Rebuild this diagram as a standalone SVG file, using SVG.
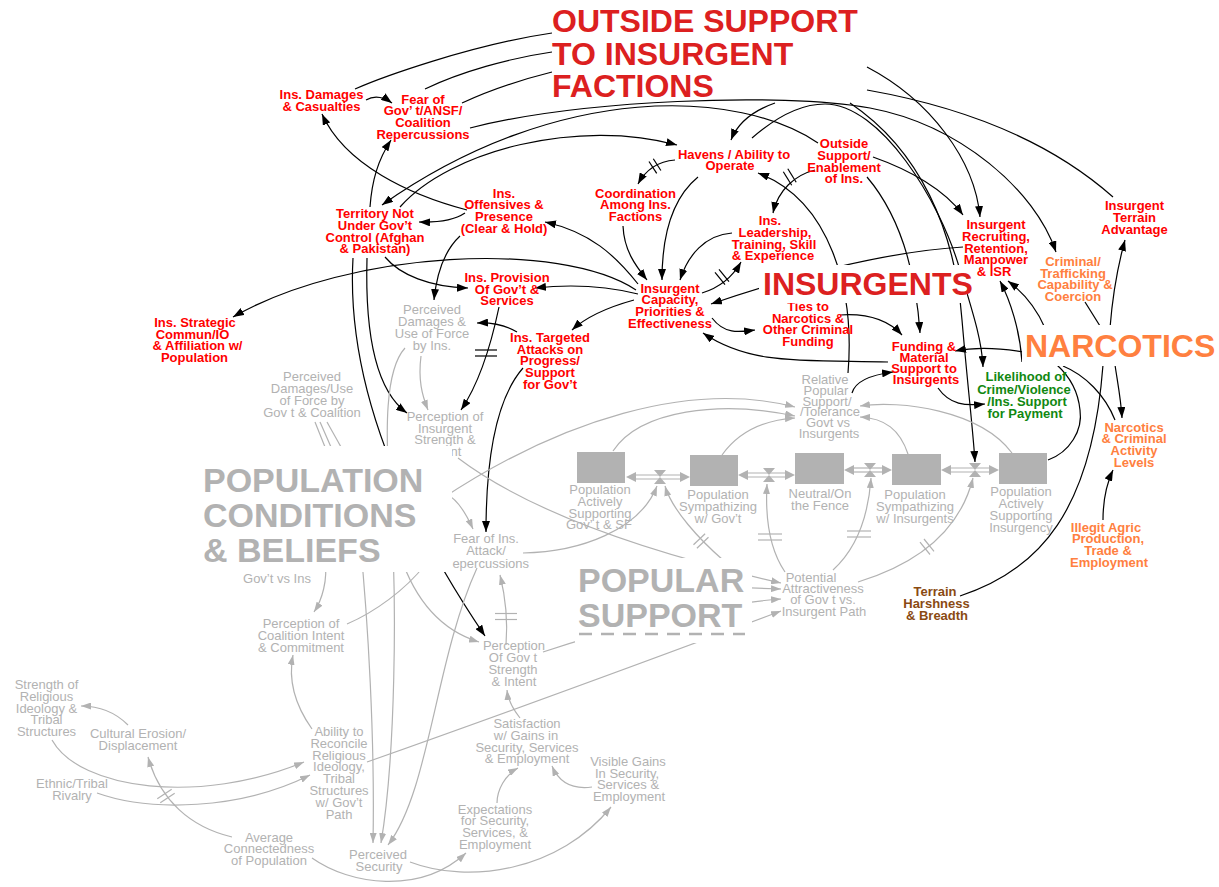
<svg xmlns="http://www.w3.org/2000/svg" width="1219" height="887" viewBox="0 0 1219 887">
<defs>
<marker id="ab" viewBox="0 0 11 8" refX="11" refY="4" markerWidth="11" markerHeight="8" markerUnits="userSpaceOnUse" orient="auto"><path d="M0,0 L11,4 L0,8 z" fill="#000"/></marker>
<marker id="ag" viewBox="0 0 10 7" refX="10" refY="3.5" markerWidth="10" markerHeight="7" markerUnits="userSpaceOnUse" orient="auto"><path d="M0,0 L10,3.5 L0,7 z" fill="#b2b2b2"/></marker>
</defs>
<style>
.k{fill:none;stroke:#000;stroke-width:1.2}
.ka{marker-end:url(#ab)}
.g{fill:none;stroke:#b2b2b2;stroke-width:1.2}
.ga{marker-end:url(#ag)}
.h{stroke:#000;stroke-width:1.2}
.hg{stroke:#b2b2b2;stroke-width:1.2}
text{font-family:"Liberation Sans",Arial,Helvetica,sans-serif}
.r{font-size:13px;font-weight:bold;fill:#f00;text-anchor:middle}
.o{font-size:13px;font-weight:bold;fill:#ff8040;text-anchor:middle}
.gr{font-size:13px;font-weight:bold;fill:#118811;text-anchor:middle}
.br{font-size:13px;font-weight:bold;fill:#8a4a12;text-anchor:middle}
.gn{font-size:13px;fill:#b2b2b2;text-anchor:middle}
.t{font-size:32px;font-weight:bold}
.tg{font-size:34px;font-weight:bold;fill:#b2b2b2}
.stock{fill:#b2b2b2}
.wb{fill:#fff}
</style>
<rect width="1219" height="887" fill="#fff"/>
<g id="connectors">
<path class="k" d="M552,33 C470,45 380,78 355,89"/>
<path class="k" d="M552,52 C510,58 460,72 425,89"/>
<path class="k" d="M552,72 C520,80 490,90 462,103"/>
<path class="k ka" d="M867,67 C930,100 975,160 980,217"/>
<path class="k" d="M867,90 C980,110 1060,150 1113,197"/>
<path class="k ka" d="M366,100 Q378,93 392,103"/>
<path class="k ka" d="M370,207 C372,180 378,160 391,140"/>
<path class="k ka" d="M467,210 C410,195 345,165 322,114"/>
<path class="k ka" d="M818,143 C740,90 560,80 382,205"/>
<path class="k ka" d="M400,207 C450,150 580,118 677,145"/>
<path class="k ka" d="M470,128 C580,100 780,92 870,108 C960,125 1035,190 1056,252"/>
<path class="k ka" d="M465,213 Q450,223 419,222"/>
<path class="k ka" d="M460,236 C445,250 437,270 434,300"/>
<path class="k ka" d="M638,284 C615,255 590,232 545,222"/>
<path class="k ka" d="M623,226 C624,250 635,265 647,280"/>
<path class="k ka" d="M675,160 Q650,162 638,184"/>
<line class="h" x1="649" y1="161.5" x2="656.7" y2="173.3"/><line class="h" x1="653.3" y1="158.7" x2="660.9" y2="170.5"/>
<path class="k ka" d="M698,177 C670,200 662,240 662,280"/>
<path class="k ka" d="M732,233 C705,235 688,255 680,280"/>
<path class="k ka" d="M702,293 Q728,285 741,262"/>
<line class="h" x1="715" y1="272.3" x2="725" y2="284.7"/><line class="h" x1="719" y1="269.3" x2="729" y2="281.7"/>
<path class="k ka" d="M815,170 C795,175 778,190 773,213"/>
<line class="h" x1="787.8" y1="168.7" x2="796.2" y2="182.3"/><line class="h" x1="783.3" y1="171.7" x2="791.7" y2="185.3"/>
<path class="k ka" d="M848,373 C855,290 830,200 758,173"/>
<path class="k ka" d="M963,247 C880,252 780,280 711,304"/>
<path class="k ka" d="M638,294 Q590,282 535,288"/>
<path class="k ka" d="M634,300 C605,308 585,318 572,330"/>
<path class="k ka" d="M712,318 C725,335 740,332 755,330"/>
<path class="k ka" d="M888,362 C800,360 750,365 703,333"/>
<path class="k ka" d="M840,315 C870,313 890,322 902,335"/>
<path class="k ka" d="M867,177 C895,210 915,260 920,333"/>
<path class="k ka" d="M775,103 C755,110 738,122 731,140"/>
<path class="k ka" d="M752,138 C775,118 800,104 825,104 C880,104 940,200 960,270 C972,310 982,340 983,367"/>
<path class="k ka" d="M850,103 C920,150 955,230 962,320 C968,390 973,430 975,462"/>
<path class="k ka" d="M873,157 C910,170 945,190 963,215"/>
<path class="k ka" d="M636,290 C560,240 350,250 233,317"/>
<path class="k ka" d="M385,257 C400,275 430,287 468,288"/>
<path class="k ka" d="M367,258 C365,330 375,390 407,413"/>
<path class="k ka" d="M353,258 C345,400 420,540 485,636"/>
<path class="k ka" d="M499,307 C490,350 478,385 461,410"/>
<line class="h" x1="475" y1="350" x2="497" y2="350"/><line class="h" x1="475" y1="356" x2="497" y2="356"/>
<path class="k ka" d="M517,332 Q500,322 477,323"/>
<path class="k ka" d="M523,368 C495,400 486,460 486,532"/>
<path class="k ka" d="M852,393 C855,382 870,375 893,372"/>
<path class="k ka" d="M938,388 C950,405 965,406 985,404"/>
<path class="k ka" d="M1023,352 C1000,348 975,347 955,351"/>
<path class="k ka" d="M1022,362 C1020,330 1010,300 1000,281"/>
<path class="k ka" d="M1045,328 C1035,305 1020,290 1008,281"/>
<path class="k" d="M1085,302 L1100,326"/>
<path class="k ka" d="M1110,328 C1113,290 1118,265 1125,240"/>
<path class="k ka" d="M1115,365 C1118,385 1121,400 1122,418"/>
<path class="k" d="M1063,366 C1085,375 1105,395 1115,420"/>
<path class="k" d="M1048,460 C1070,452 1083,430 1080,410 C1078,390 1068,375 1057,365"/>
<path class="k" d="M960,596 C1040,570 1092,510 1103,365"/>
<path class="k ka" d="M1103,520 C1103,500 1106,485 1113,470"/>

<path class="g ga" d="M523,553 C580,552 640,530 657,486"/>
<path class="g ga" d="M613,451 C640,410 720,400 795,416"/>
<path class="g ga" d="M722,455 C740,430 765,420 795,418"/>
<path class="g ga" d="M908,454 C900,430 885,418 860,417"/>
<path class="g ga" d="M1012,453 C980,410 900,400 860,406"/>
<path class="g ga" d="M440,500 C560,420 690,380 795,407"/>
<path class="g ga" d="M446,494 Q460,500 473,529"/>
<path class="g ga" d="M421,356 C418,380 422,395 428,410"/>
<path class="g ga" d="M405,348 C385,370 385,430 390,500 C398,600 395,760 381,843"/>
<path class="g ga" d="M458,458 C540,520 680,560 781,583"/>
<path class="g ga" d="M700,586 L781,589"/>
<path class="g ga" d="M543,652 C600,633 700,605 781,599"/>
<path class="g ga" d="M367,762 C500,715 650,660 781,611"/>
<path class="g ga" d="M723,560 C700,540 672,510 665,486"/>
<line class="hg" x1="693.5" y1="544.7" x2="705.1" y2="533.7"/><line class="hg" x1="696.9" y1="548.3" x2="708.5" y2="537.3"/>
<path class="g ga" d="M785,572 C770,550 765,520 767,484"/>
<line class="hg" x1="758" y1="534" x2="782" y2="534"/><line class="hg" x1="758" y1="540" x2="782" y2="540"/>
<path class="g ga" d="M833,570 C855,550 868,520 871,478"/>
<line class="hg" x1="847" y1="531" x2="871" y2="531"/><line class="hg" x1="847" y1="537" x2="871" y2="537"/>
<path class="g ga" d="M858,582 C920,563 960,530 973,478"/>
<line class="hg" x1="920" y1="542.1" x2="930" y2="554.5"/><line class="hg" x1="924" y1="539" x2="934" y2="551.4"/>
<line class="g" x1="315" y1="422" x2="325" y2="447"/><line class="g" x1="320" y1="422" x2="331" y2="447"/><line class="g" x1="327" y1="422" x2="341" y2="447"/>
<path class="g ga" d="M325,560 C328,580 322,600 314,612"/>
<path class="g" d="M347,624 C375,612 405,590 425,565"/>
<path class="g ga" d="M360,540 C368,620 375,740 373,843"/>
<path class="g ga" d="M477,568 C435,660 430,790 388,845"/>
<path class="g ga" d="M400,555 C415,600 440,630 479,642"/>
<path class="g ga" d="M506,645 C508,620 505,595 500,575"/>
<line class="hg" x1="495" y1="613.5" x2="517" y2="613.5"/><line class="hg" x1="495" y1="619.5" x2="517" y2="619.5"/>
<path class="g ga" d="M52,740 C80,790 200,805 304,762"/>
<path class="g ga" d="M97,793 C150,812 240,810 310,775"/>
<path class="g ga" d="M232,837 C190,827 160,800 148,757"/>
<line class="hg" x1="157.3" y1="798.8" x2="171.7" y2="789.2"/><line class="hg" x1="160.3" y1="802.8" x2="174.7" y2="793.2"/>
<path class="g ga" d="M128,725 C115,712 100,706 81,706"/>
<path class="g ga" d="M312,729 C295,705 288,680 293,655"/>
<path class="g ga" d="M312,858 C350,885 420,895 466,853"/>
<path class="g ga" d="M410,862 C470,885 560,870 611,807"/>
<path class="g ga" d="M592,787 C570,790 558,780 552,766"/>
<path class="g ga" d="M497,803 C497,790 505,775 518,768"/>
<path class="g ga" d="M520,718 C512,708 508,700 507,690"/>
</g>

<g id="stocks">
<rect class="stock" x="577" y="452" width="48" height="31"/>
<rect class="stock" x="690" y="455" width="48" height="31"/>
<rect class="stock" x="795" y="453" width="49" height="31"/>
<rect class="stock" x="892" y="454" width="49" height="31"/>
<rect class="stock" x="999" y="453" width="48" height="31"/>
</g>
<g id="flows">
<line class="g" x1="634" y1="475" x2="682" y2="475"/><line class="g" x1="634" y1="479" x2="682" y2="479"/>
<polygon class="stock" points="626,477 636,472 636,482"/><polygon class="stock" points="690,477 680,472 680,482"/>
<path class="stock" d="M654,470 L666,470 L654,484 L666,484 Z"/>
<line class="g" x1="746" y1="473" x2="787" y2="473"/><line class="g" x1="746" y1="477" x2="787" y2="477"/>
<polygon class="stock" points="738,475 748,470 748,480"/><polygon class="stock" points="795,475 785,470 785,480"/>
<path class="stock" d="M763,468 L775,468 L763,482 L775,482 Z"/>
<line class="g" x1="852" y1="468" x2="884" y2="468"/><line class="g" x1="852" y1="472" x2="884" y2="472"/>
<polygon class="stock" points="844,470 854,465 854,475"/><polygon class="stock" points="892,470 882,465 882,475"/>
<path class="stock" d="M864,463 L876,463 L864,477 L876,477 Z"/>
<line class="g" x1="949" y1="468" x2="991" y2="468"/><line class="g" x1="949" y1="472" x2="991" y2="472"/>
<polygon class="stock" points="941,470 951,465 951,475"/><polygon class="stock" points="999,470 989,465 989,475"/>
<path class="stock" d="M969,463 L981,463 L969,477 L981,477 Z"/>
</g>

<g id="n_damages"><text class="r"><tspan x="321.5" y="98.6">Ins. Damages</tspan><tspan x="321.5" y="110.5">&amp; Casualties</tspan></text></g>
<g id="n_fear"><text class="r"><tspan x="423" y="103.6">Fear of</tspan><tspan x="423" y="115.3">Gov’ t/ANSF/</tspan><tspan x="423" y="127">Coalition</tspan><tspan x="423" y="138.7">Repercussions</tspan></text></g>
<g id="n_territory"><text class="r"><tspan x="375" y="218.3">Territory Not</tspan><tspan x="375" y="230">Under Gov’t</tspan><tspan x="375" y="241.7">Control (Afghan</tspan><tspan x="375" y="253.4">&amp; Pakistan)</tspan></text></g>
<g id="n_offensives"><text class="r"><tspan x="504" y="197.6">Ins.</tspan><tspan x="504" y="209.3">Offensives &amp;</tspan><tspan x="504" y="221">Presence</tspan><tspan x="504" y="232.7">(Clear &amp; Hold)</tspan></text></g>
<g id="n_havens"><text class="r"><tspan x="734" y="158.5">Havens / Ability to</tspan><tspan x="730" y="170">Operate</tspan></text></g>
<g id="n_coord"><text class="r"><tspan x="635.5" y="197.6">Coordination</tspan><tspan x="635.5" y="209.3">Among Ins.</tspan><tspan x="635.5" y="221">Factions</tspan></text></g>
<g id="n_outside"><text class="r"><tspan x="844" y="148.3">Outside</tspan><tspan x="844" y="160">Support/</tspan><tspan x="844" y="171.7">Enablement</tspan><tspan x="844" y="183.4">of Ins.</tspan></text></g>
<g id="n_leader"><text class="r"><tspan x="770" y="225.3">Ins.</tspan><tspan x="775" y="237">Leadership,</tspan><tspan x="774" y="248.6">Training, Skill</tspan><tspan x="773" y="260.3">&amp; Experience</tspan></text></g>
<g id="n_capacity"><text class="r"><tspan x="670" y="292.6">Insurgent</tspan><tspan x="670" y="304.3">Capacity,</tspan><tspan x="670" y="316">Priorities &amp;</tspan><tspan x="670" y="327.7">Effectiveness</tspan></text></g>
<g id="n_provision"><text class="r"><tspan x="507" y="282">Ins. Provision</tspan><tspan x="507" y="293.6">Of Gov’t &amp;</tspan><tspan x="507" y="305.3">Services</tspan></text></g>
<g id="n_strategic"><text class="r"><tspan x="195" y="327">Ins. Strategic</tspan><tspan x="192.5" y="338.6">Commun/IO</tspan><tspan x="197.5" y="350.3">&amp; Affiliation w/</tspan><tspan x="194.5" y="362">Population</tspan></text></g>
<g id="n_targeted"><text class="r"><tspan x="550" y="342">Ins. Targeted</tspan><tspan x="550" y="353.6">Attacks on</tspan><tspan x="550" y="365.3">Progress/</tspan><tspan x="550" y="377">Support</tspan><tspan x="550" y="388.7">for Gov’t</tspan></text></g>
<g id="n_ties"><text class="r"><tspan x="808" y="311">Ties to</tspan><tspan x="808" y="322.6">Narcotics &amp;</tspan><tspan x="808" y="334.3">Other Criminal</tspan><tspan x="808" y="346">Funding</tspan></text></g>
<g id="n_funding"><text class="r"><tspan x="924" y="351">Funding &amp;</tspan><tspan x="924" y="362">Material</tspan><tspan x="924" y="372.8">Support to</tspan><tspan x="926" y="383.8">Insurgents</tspan></text></g>
<g id="n_recruit"><text class="r"><tspan x="996" y="229.3">Insurgent</tspan><tspan x="996" y="241">Recruiting,</tspan><tspan x="996" y="252.6">Retention,</tspan><tspan x="996" y="264.3">Manpower</tspan><tspan x="994" y="276">&amp; ISR</tspan></text></g>
<g id="n_terrainadv"><text class="r"><tspan x="1134.5" y="210.3">Insurgent</tspan><tspan x="1134.5" y="222">Terrain</tspan><tspan x="1134.5" y="233.7">Advantage</tspan></text></g>
<g id="n_criminal"><text class="o"><tspan x="1073" y="266">Criminal/</tspan><tspan x="1073" y="277.6">Trafficking</tspan><tspan x="1075" y="289.3">Capability &amp;</tspan><tspan x="1073" y="301">Coercion</tspan></text></g>
<g id="n_narclevels"><text class="o"><tspan x="1134" y="431.6">Narcotics</tspan><tspan x="1134" y="443.3">&amp; Criminal</tspan><tspan x="1134" y="455">Activity</tspan><tspan x="1134" y="466.7">Levels</tspan></text></g>
<g id="n_illegit"><text class="o"><tspan x="1106" y="531.6">Illegit Agric</tspan><tspan x="1108" y="543.3">Production,</tspan><tspan x="1108" y="555">Trade &amp;</tspan><tspan x="1109" y="566.7">Employment</tspan></text></g>
<g id="n_likelihood"><text class="gr"><tspan x="1026" y="381">Likelihood of</tspan><tspan x="1024" y="393.5">Crime/Violence</tspan><tspan x="1027" y="406">/Ins. Support</tspan><tspan x="1025" y="418">for Payment</tspan></text></g>
<g id="n_terrainharsh"><text class="br"><tspan x="935" y="596">Terrain</tspan><tspan x="936.5" y="608">Harshness</tspan><tspan x="937" y="620">&amp; Breadth</tspan></text></g>

<g id="g_dmgins"><text class="gn"><tspan x="432" y="314.4">Perceived</tspan><tspan x="432" y="326.4">Damages &amp;</tspan><tspan x="432" y="338.4">Use of Force</tspan><tspan x="432" y="350.2">by Ins.</tspan></text></g>
<g id="g_dmggov"><text class="gn"><tspan x="312" y="381">Perceived</tspan><tspan x="312" y="393">Damages/Use</tspan><tspan x="312" y="405">of Force by</tspan><tspan x="312" y="417">Gov  t &amp; Coalition</tspan></text></g>
<g id="g_percins"><text class="gn"><tspan x="445" y="421">Perception of</tspan><tspan x="445" y="432.7">Insurgent</tspan><tspan x="445" y="444.4">Strength &amp;</tspan><tspan x="445" y="456">Intent</tspan></text></g>
<g id="g_fear"><text class="gn"><tspan x="486" y="542.6">Fear of Ins.</tspan><tspan x="486" y="555">Attack/</tspan><tspan x="486" y="567.5">Repercussions</tspan></text></g>
<g id="g_relative"><text class="gn"><tspan x="825" y="384.4">Relative</tspan><tspan x="826" y="395">Popular</tspan><tspan x="827" y="405.7">Support/</tspan><tspan x="830" y="416.4">/Tolerance</tspan><tspan x="828" y="427">Govt vs</tspan><tspan x="829" y="437.7">Insurgents</tspan></text></g>
<g id="g_pop1"><text class="gn"><tspan x="600" y="494.4">Population</tspan><tspan x="600" y="506">Actively</tspan><tspan x="600" y="517.7">Supporting</tspan><tspan x="599" y="529.4">Gov’ t &amp; SF</tspan></text></g>
<g id="g_pop2"><text class="gn"><tspan x="718" y="499.4">Population</tspan><tspan x="718" y="511">Sympathizing</tspan><tspan x="718" y="522.7">w/ Gov’t</tspan></text></g>
<g id="g_neutral"><text class="gn"><tspan x="820" y="498.4">Neutral/On</tspan><tspan x="820" y="510">the Fence</tspan></text></g>
<g id="g_pop4"><text class="gn"><tspan x="915" y="499.4">Population</tspan><tspan x="915" y="511">Sympathizing</tspan><tspan x="915" y="522.7">w/ Insurgents</tspan></text></g>
<g id="g_pop5"><text class="gn"><tspan x="1021" y="496">Population</tspan><tspan x="1021" y="508">Actively</tspan><tspan x="1021" y="520">Supporting</tspan><tspan x="1021" y="531.7">Insurgency</tspan></text></g>
<g id="g_potential"><text class="gn"><tspan x="811" y="581.7">Potential</tspan><tspan x="823" y="592.7">Attractiveness</tspan><tspan x="823" y="604.4">of Gov t vs.</tspan><tspan x="824" y="616">Insurgent Path</tspan></text></g>
<g id="g_coalition"><text class="gn"><tspan x="301" y="628.4">Perception of</tspan><tspan x="301" y="640">Coalition Intent</tspan><tspan x="301" y="651.7">&amp; Commitment</tspan></text></g>
<g id="g_strength"><text class="gn"><tspan x="46.5" y="689.4">Strength of</tspan><tspan x="46.5" y="701">Religious</tspan><tspan x="46.5" y="712.7">Ideology &amp;</tspan><tspan x="46.5" y="724.4">Tribal</tspan><tspan x="46.5" y="736.4">Structures</tspan></text></g>
<g id="g_cultural"><text class="gn"><tspan x="138" y="738.4">Cultural Erosion/</tspan><tspan x="138" y="750">Displacement</tspan></text></g>
<g id="g_ethnic"><text class="gn"><tspan x="72" y="788.4">Ethnic/Tribal</tspan><tspan x="72" y="800">Rivalry</tspan></text></g>
<g id="g_ability"><text class="gn"><tspan x="339" y="736">Ability to</tspan><tspan x="339" y="747.7">Reconcile</tspan><tspan x="339" y="759.6">Religious</tspan><tspan x="339" y="771.3">Ideology,</tspan><tspan x="339" y="783.2">Tribal</tspan><tspan x="339" y="795.2">Structures</tspan><tspan x="339" y="807.2">w/ Gov’t</tspan><tspan x="339" y="819">Path</tspan></text></g>
<g id="g_average"><text class="gn"><tspan x="269" y="841.7">Average</tspan><tspan x="269" y="853.4">Connectedness</tspan><tspan x="269" y="865.2">of Population</tspan></text></g>
<g id="g_security"><text class="gn"><tspan x="378" y="859.4">Perceived</tspan><tspan x="379" y="871">Security</tspan></text></g>
<g id="g_percgov"><text class="gn"><tspan x="514" y="650.4">Perception</tspan><tspan x="513" y="662">Of Gov t</tspan><tspan x="513" y="674">Strength</tspan><tspan x="514" y="686">&amp; Intent</tspan></text></g>
<g id="g_satisf"><text class="gn"><tspan x="527" y="727.7">Satisfaction</tspan><tspan x="526" y="739.7">w/ Gains in</tspan><tspan x="527" y="751.7">Security, Services</tspan><tspan x="527" y="763.4">&amp; Employment</tspan></text></g>
<g id="g_visible"><text class="gn"><tspan x="628" y="766">Visible Gains</tspan><tspan x="627" y="777.5">In Security,</tspan><tspan x="628" y="789">Services &amp;</tspan><tspan x="629" y="801">Employment</tspan></text></g>
<g id="g_expect"><text class="gn"><tspan x="495" y="813.7">Expectations</tspan><tspan x="495" y="825.4">for Security,</tspan><tspan x="495" y="837.2">Services, &amp;</tspan><tspan x="495" y="849">Employment</tspan></text></g>

<g id="sector_boxes">
<rect class="wb" x="200" y="446" width="252" height="126"/>
<rect class="wb" x="759" y="265" width="208" height="38"/>
<rect class="wb" x="1022" y="325" width="194" height="41"/>
<rect class="wb" x="575" y="558" width="177" height="85"/>
<line x1="579" y1="634" x2="745" y2="634" stroke="#b2b2b2" stroke-width="2.5" stroke-dasharray="13,9"/>
</g>
<g id="g_govvsins"><text class="gn"><tspan x="277" y="582.6">Gov’t vs Ins</tspan></text></g>
<g id="title_outside"><text class="t" fill="#dc2020"><tspan x="552" y="32">OUTSIDE SUPPORT</tspan><tspan x="552" y="65">TO INSURGENT</tspan><tspan x="552" y="97">FACTIONS</tspan></text></g>
<g id="title_insurgents"><text class="t" fill="#dc2020" x="763" y="295">INSURGENTS</text></g>
<g id="title_narcotics"><text class="t" fill="#ff8040" x="1025" y="357">NARCOTICS</text></g>
<g id="title_population"><text class="tg"><tspan x="203" y="492">POPULATION</tspan><tspan x="203" y="527">CONDITIONS</tspan><tspan x="203" y="562">&amp; BELIEFS</tspan></text></g>
<g id="title_popular"><text class="tg"><tspan x="578" y="592">POPULAR</tspan><tspan x="578" y="627">SUPPORT</tspan></text></g>
</svg>
